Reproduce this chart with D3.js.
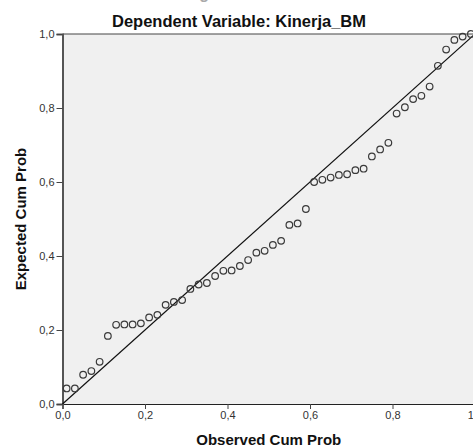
<!DOCTYPE html>
<meta charset="utf-8">
<script src="https://d3js.org/d3.v7.min.js"></script>
<style>
  body { margin: 0; background: #fff; }
  svg { display: block; font-family: "Liberation Sans", Arial, sans-serif; }
</style>
<div id="my_dataviz"></div>
<script>
// observed cumulative probability (x) and expected cumulative probability (y)
const observed = [0.01, 0.03, 0.05, 0.07, 0.09, 0.11, 0.13, 0.15, 0.17, 0.19,
                  0.21, 0.23, 0.25, 0.27, 0.29, 0.31, 0.33, 0.35, 0.37, 0.39,
                  0.41, 0.43, 0.45, 0.47, 0.49, 0.51, 0.53, 0.55, 0.57, 0.59,
                  0.61, 0.63, 0.65, 0.67, 0.69, 0.71, 0.73, 0.75, 0.77, 0.79,
                  0.81, 0.83, 0.85, 0.87, 0.89, 0.91, 0.93, 0.95, 0.97, 0.99];
const expected = [0.042, 0.042, 0.079, 0.089, 0.114, 0.184, 0.214, 0.215, 0.215, 0.218,
                  0.234, 0.241, 0.268, 0.276, 0.281, 0.311, 0.323, 0.327, 0.346, 0.360,
                  0.361, 0.373, 0.389, 0.409, 0.414, 0.430, 0.441, 0.484, 0.488, 0.527,
                  0.600, 0.606, 0.612, 0.619, 0.621, 0.632, 0.636, 0.669, 0.688, 0.706,
                  0.785, 0.802, 0.824, 0.833, 0.858, 0.914, 0.958, 0.984, 0.993, 1.000];
const tickValues = [0, 0.2, 0.4, 0.6, 0.8, 1.0];
const refLine = [0, 1];

const W = 473, H = 448;
const margin = {top: 34, right: -2, bottom: 44, left: 62.5};
const width = W - margin.left - margin.right,
      height = H - margin.top - margin.bottom;

const svg = d3.select("#my_dataviz").append("svg")
    .attr("width", W).attr("height", H);

// main title, cut off at the very top of the picture
svg.append("text")
    .attr("x", 238).attr("y", -1.5)
    .attr("text-anchor", "middle")
    .style("font-size", "16px").style("font-weight", "bold")
    .attr("fill", "#aaa")
    .text("Normal P-P Plot of Regression Standardized Residual");

svg.append("text")
    .attr("x", 239).attr("y", 27)
    .attr("text-anchor", "middle")
    .style("font-size", "16.5px").style("font-weight", "bold")
    .attr("fill", "#111")
    .text("Dependent Variable: Kinerja_BM");

const g = svg.append("g")
    .attr("transform", `translate(${margin.left},${margin.top})`);

const x = d3.scaleLinear().domain([0, 1]).range([0, width]);
const y = d3.scaleLinear().domain([0, 1]).range([height, 0]);

// plot background
g.append("rect")
    .attr("width", width).attr("height", height)
    .attr("fill", "#f0f0f0");

const fmt = d3.formatLocale({decimal: ",", thousands: ".", grouping: [3], currency: ["", ""]}).format(".1f");

// top frame
g.append("line")
    .attr("x1", 0).attr("x2", width).attr("y1", 0).attr("y2", 0)
    .attr("stroke", "#444").attr("stroke-width", 1);

const xAxis = g.append("g")
    .attr("transform", `translate(0,${height})`)
    .call(d3.axisBottom(x).tickValues(tickValues).tickFormat(fmt).tickSizeOuter(0).tickSize(5).tickPadding(2));
const yAxis = g.append("g")
    .call(d3.axisLeft(y).tickValues(tickValues).tickFormat(fmt).tickSizeOuter(0).tickSize(6).tickPadding(2));

[xAxis, yAxis].forEach(a => {
    a.selectAll("text").style("font-size", "11px").attr("fill", "#333")
        .style("font-family", "'Liberation Sans', Arial, sans-serif");
    a.selectAll(".tick line").attr("stroke", "#444");
});
xAxis.select(".domain").attr("stroke", "#222").attr("stroke-width", 1.2);
yAxis.select(".domain").attr("stroke", "#555").attr("stroke-width", 2);

// reference diagonal
g.append("path")
    .datum(refLine)
    .attr("d", d3.line().x(d => x(d)).y(d => y(d)))
    .attr("stroke", "#111").attr("stroke-width", 1.2).attr("fill", "none");

// points
g.append("g").selectAll("circle")
    .data(observed.map((o, i) => ({o: o, e: expected[i]})))
    .join("circle")
    .attr("cx", d => x(d.o))
    .attr("cy", d => y(d.e))
    .attr("r", 3.3)
    .attr("fill", "none")
    .attr("stroke", "#3a3a3a")
    .attr("stroke-width", 1.2);

// axis titles
svg.append("text")
    .attr("x", margin.left + width / 2).attr("y", 445)
    .attr("text-anchor", "middle")
    .style("font-size", "15px").style("font-weight", "bold")
    .attr("fill", "#111")
    .text("Observed Cum Prob");

svg.append("text")
    .attr("transform", `translate(26,${margin.top + height / 2}) rotate(-90)`)
    .attr("text-anchor", "middle")
    .style("font-size", "15px").style("font-weight", "bold")
    .attr("fill", "#111")
    .text("Expected Cum Prob");
</script>
